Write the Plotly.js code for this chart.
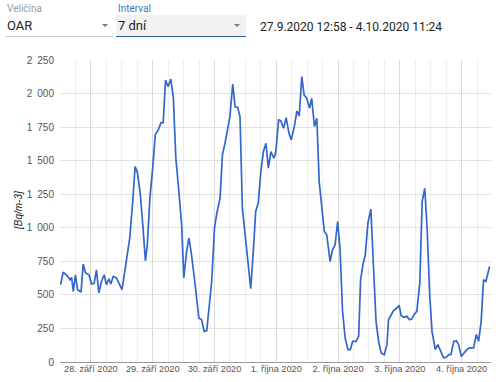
<!DOCTYPE html>
<html>
<head>
<meta charset="utf-8">
<script src="https://cdn.plot.ly/plotly-3.0.1.min.js"></script>
<style>
  html, body { margin: 0; padding: 0; background: #fff; }
  #wrap { position: relative; width: 500px; height: 382px; overflow: hidden; font-family: Roboto, "Liberation Sans", Arial, sans-serif; }
  #chart { position: absolute; left: 0; top: 0; width: 500px; height: 382px; }
  .lbl { position: absolute; font-size: 10px; line-height: 12px; white-space: nowrap; }
  .val { position: absolute; font-size: 13px; line-height: 16px; color: #222; white-space: nowrap; }
  .arrow { position: absolute; width: 0; height: 0; border-left: 3.5px solid transparent; border-right: 3.5px solid transparent; border-top: 3.5px solid #777; }
</style>
</head>
<body>
<div id="wrap">
  <div id="chart"></div>
  <div id="bar">
    <div class="lbl" style="left:7px; top:3px; color:#9a9a9a;">Veličina</div>
    <div class="val" style="left:7px; top:18px;">OAR</div>
    <div class="arrow" style="left:102px; top:24px;"></div>
    <div style="position:absolute; left:6px; top:36px; width:107px; height:1px; background:#c6c6c6;"></div>

    <div style="position:absolute; left:116px; top:15px; width:130px; height:21px; background:#f2f2f2;"></div>
    <div class="lbl" style="left:118px; top:3px; color:#3d74b6;">Interval</div>
    <div class="val" style="left:118px; top:18px;">7 dní</div>
    <div class="arrow" style="left:234px; top:24px;"></div>
    <div style="position:absolute; left:116px; top:36px; width:130px; height:1px; background:#2f5d9e;"></div>

    <div class="val" style="left:260px; top:19px; font-size:12px;">27.9.2020 12:58 - 4.10.2020 11:24</div>
  </div>
</div>
<script>
const times = [
"2020-09-27 12:15","2020-09-27 13:15","2020-09-27 15:00","2020-09-27 15:50","2020-09-27 16:30","2020-09-27 17:10","2020-09-27 18:00","2020-09-27 18:50","2020-09-27 20:10","2020-09-27 21:00","2020-09-27 21:55","2020-09-27 23:15",
"2020-09-28 00:15","2020-09-28 01:15","2020-09-28 02:10","2020-09-28 03:05","2020-09-28 04:05","2020-09-28 05:10","2020-09-28 06:00","2020-09-28 07:00","2020-09-28 07:45","2020-09-28 08:40","2020-09-28 09:55","2020-09-28 11:15","2020-09-28 12:05","2020-09-28 13:10","2020-09-28 14:25","2020-09-28 15:05","2020-09-28 16:15","2020-09-28 17:10","2020-09-28 18:00","2020-09-28 19:05","2020-09-28 20:10","2020-09-28 21:10","2020-09-28 21:55","2020-09-28 22:55",
"2020-09-29 00:00","2020-09-29 01:00","2020-09-29 02:10","2020-09-29 03:15","2020-09-29 04:05","2020-09-29 05:00","2020-09-29 06:00","2020-09-29 07:00","2020-09-29 08:00","2020-09-29 09:00","2020-09-29 10:10","2020-09-29 11:15","2020-09-29 12:05","2020-09-29 13:10","2020-09-29 14:05","2020-09-29 15:05","2020-09-29 16:20","2020-09-29 17:55","2020-09-29 19:00","2020-09-29 20:00","2020-09-29 21:00","2020-09-29 21:55","2020-09-29 22:55",
"2020-09-30 00:00","2020-09-30 00:55","2020-09-30 02:10","2020-09-30 03:05","2020-09-30 04:05","2020-09-30 05:10","2020-09-30 06:00","2020-09-30 07:05","2020-09-30 08:00","2020-09-30 09:00","2020-09-30 09:55","2020-09-30 10:50","2020-09-30 11:50","2020-09-30 13:10","2020-09-30 14:05","2020-09-30 15:05","2020-09-30 16:00","2020-09-30 17:00","2020-09-30 18:00","2020-09-30 19:00","2020-09-30 20:00","2020-09-30 20:55","2020-09-30 21:55","2020-09-30 23:05","2020-09-30 23:50",
"2020-10-01 00:55","2020-10-01 01:45","2020-10-01 02:50","2020-10-01 03:50","2020-10-01 04:55","2020-10-01 05:50","2020-10-01 07:00","2020-10-01 08:00","2020-10-01 08:55","2020-10-01 09:55","2020-10-01 10:50","2020-10-01 11:50","2020-10-01 12:55","2020-10-01 13:45","2020-10-01 14:50","2020-10-01 15:45","2020-10-01 16:40","2020-10-01 17:50","2020-10-01 18:40","2020-10-01 19:35","2020-10-01 20:55","2020-10-01 21:50","2020-10-01 22:50","2020-10-01 23:50",
"2020-10-02 00:45","2020-10-02 01:45","2020-10-02 02:45","2020-10-02 03:50","2020-10-02 04:45","2020-10-02 05:40","2020-10-02 07:00","2020-10-02 08:00","2020-10-02 08:45","2020-10-02 09:40","2020-10-02 10:35","2020-10-02 11:35","2020-10-02 12:45","2020-10-02 13:40","2020-10-02 14:45","2020-10-02 15:45","2020-10-02 16:45","2020-10-02 17:55","2020-10-02 19:00","2020-10-02 19:35","2020-10-02 20:40","2020-10-02 21:30","2020-10-02 22:50","2020-10-02 23:45",
"2020-10-03 00:30","2020-10-03 01:35","2020-10-03 02:45","2020-10-03 03:45","2020-10-03 04:40","2020-10-03 05:30","2020-10-03 06:35","2020-10-03 07:45","2020-10-03 08:40","2020-10-03 09:40","2020-10-03 10:35","2020-10-03 11:35","2020-10-03 12:30","2020-10-03 13:45","2020-10-03 14:45","2020-10-03 16:00","2020-10-03 17:00","2020-10-03 18:00","2020-10-03 19:00","2020-10-03 19:50","2020-10-03 20:55","2020-10-03 21:55","2020-10-03 22:50","2020-10-03 23:50",
"2020-10-04 01:00","2020-10-04 02:00","2020-10-04 03:05","2020-10-04 04:40","2020-10-04 05:40","2020-10-04 06:35","2020-10-04 07:35","2020-10-04 08:30","2020-10-04 09:25","2020-10-04 10:50"
];
const oar = [
576,670,638,613,630,526,650,539,521,730,663,650,
581,586,687,514,600,650,576,620,581,638,626,576,539,675,824,923,1196,1456,1419,1270,1022,754,873,1221,
1444,1692,1729,1783,1783,2101,2051,2108,1977,1518,1270,1022,626,824,923,799,600,328,315,228,234,402,600,
997,1109,1221,1543,1630,1754,1828,2071,1902,1898,1828,1146,972,749,546,824,1121,1184,1419,1568,1630,1444,1568,1518,1568,
1803,1798,1742,1821,1705,1655,1754,1870,1833,2126,1989,1965,1891,1965,1754,1816,1344,1146,972,948,749,836,873,1047,
849,377,179,92,92,154,154,191,613,725,799,1035,1139,749,303,154,68,55,129,315,353,382,402,422,
345,333,340,315,321,353,377,588,1196,1295,997,501,228,92,129,68,31,35,55,55,154,159,129,42,
68,92,105,105,204,154,303,613,600,712
];
const xTickVals = ["2020-09-28","2020-09-29","2020-09-30","2020-10-01","2020-10-02","2020-10-03","2020-10-04"];
const xTickText = ["28. září 2020","29. září 2020","30. září 2020","1. října 2020","2. října 2020","3. října 2020","4. října 2020"];
const yTickVals = [0,250,500,750,1000,1250,1500,1750,2000,2250];
const yTickText = ["0","250","500","750","1\u2002000","1\u2002250","1\u2002500","1\u2002750","2\u2002000","2\u2002250"];
const xRange = ["2020-09-27 12:00","2020-10-04 11:24"];
const yTitle = "[Bq/m-3]";

const trace = {
  x: times, y: oar, type: "scatter", mode: "lines",
  line: { color: "#3366cc", width: 1.7 },
  hoverinfo: "x+y"
};
const layout = {
  width: 500, height: 382,
  margin: { l: 60, r: 9, t: 60, b: 20, pad: 0 },
  paper_bgcolor: "rgba(0,0,0,0)",
  plot_bgcolor: "#fff",
  showlegend: false,
  font: { family: "Liberation Sans, Arial, sans-serif", size: 10, color: "#555" },
  xaxis: {
    type: "date", range: xRange,
    tickmode: "array", tickvals: xTickVals, ticktext: xTickText,
    tickfont: { size: 9.2, color: "#555" },
    showgrid: true, gridcolor: "#d9d9d9", gridwidth: 1,
    ticks: "", showline: false, zeroline: false,
    minor: { dtick: 6 * 3600 * 1000, tick0: "2020-09-28", showgrid: true, gridcolor: "#eeeeee", gridwidth: 1, ticks: "" },
    fixedrange: true
  },
  yaxis: {
    range: [0, 2250],
    tickmode: "array", tickvals: yTickVals, ticktext: yTickText,
    tickfont: { size: 10, color: "#555" },
    showgrid: true, gridcolor: "#e2e2e2", gridwidth: 1,
    zeroline: true, zerolinecolor: "#9a9a9a", zerolinewidth: 1,
    ticks: "", ticklabelstandoff: 5, showline: false,
    fixedrange: true
  },
  annotations: [{
    text: yTitle, xref: "paper", yref: "paper",
    x: -(60 - 18) / 431, y: 0.5, xanchor: "center", yanchor: "middle",
    textangle: -90, showarrow: false,
    font: { family: "Liberation Sans, Arial, sans-serif", size: 10, color: "#222", style: "italic" }
  }]
};
Plotly.newPlot("chart", [trace], layout, { displayModeBar: false, staticPlot: true });
</script>
</body>
</html>
